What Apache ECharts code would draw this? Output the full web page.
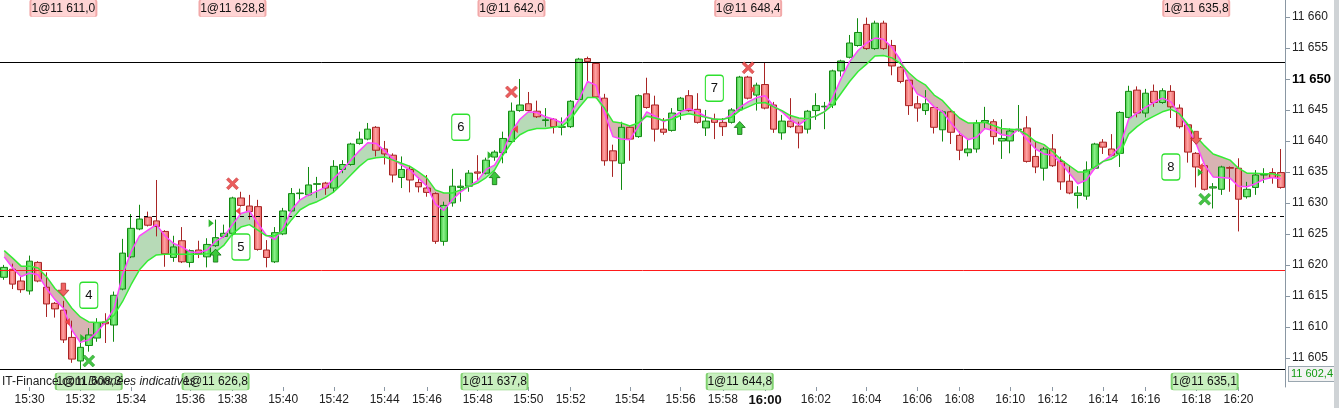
<!DOCTYPE html>
<html><head><meta charset="utf-8">
<script src="https://cdn.jsdelivr.net/npm/echarts@6/dist/echarts.min.js"></script>
<style>html,body{margin:0;padding:0;background:#fff}#c{width:1339px;height:408px}</style>
</head><body><div id="c"></div>
<script>
// ---- time axis ticks (candle index -> label)
const tickIndex = [3,9,15,22,27,33,39,45,50,56,62,67,74,80,85,90,96,102,108,113,119,124,130,135,141,146];
const tickLabels = ['15:30','15:32','15:34','15:36','15:38','15:40','15:42','15:44','15:46','15:48','15:50','15:52','15:54','15:56','15:58','16:00','16:02','16:04','16:06','16:08','16:10','16:12','16:14','16:16','16:18','16:20'];

// ---- candles
const opens = [11618.0,11619.3,11617.4,11615.8,11620.4,11616.4,11613.8,11612.7,11608.3,11604.5,11607.0,11608.2,11610.8,11610.3,11616.1,11621.3,11625.8,11627.7,11627.1,11625.4,
11621.2,11623.9,11620.4,11622.4,11621.3,11623.1,11624.6,11625.1,11630.8,11629.5,11629.4,11622.4,11620.5,11625.0,11628.7,11631.5,11631.3,11633.0,11633.2,11632.4,
11635.4,11636.2,11639.6,11640.3,11642.2,11638.7,11637.7,11634.1,11635.4,11633.3,11632.4,11631.5,11623.8,11630.0,11632.5,11632.7,11635.0,11634.8,11637.4,11638.1,
11639.9,11644.9,11646.0,11644.8,11643.3,11643.5,11642.2,11642.3,11646.7,11653.3,11652.5,11646.9,11638.4,11636.4,11642.2,11640.7,11647.6,11645.8,11641.9,11641.7,
11644.9,11647.3,11645.1,11642.1,11643.5,11643.0,11643.0,11645.0,11650.3,11647.4,11649.1,11645.8,11641.3,11643.2,11642.4,11641.9,11644.9,11645.5,11645.8,11651.3,
11653.5,11655.4,11658.8,11654.9,11659.0,11655.4,11651.9,11649.8,11646.0,11644.9,11645.4,11641.8,11644.7,11640.9,11638.1,11638.7,11643.0,11643.1,11640.0,11640.0,
11641.8,11642.1,11637.5,11635.6,11638.7,11636.7,11633.5,11631.2,11631.1,11635.6,11639.8,11638.7,11638.0,11643.8,11648.2,11644.5,11648.0,11646.2,11648.0,11645.3,
11642.6,11638.0,11636.0,11632.4,11632.2,11635.7,11635.6,11631.0,11632.5,11634.5,11634.9,11634.9];
const closes = [11619.6,11616.9,11616.0,11620.6,11617.4,11613.7,11612.9,11607.9,11604.8,11606.7,11608.7,11610.7,11610.5,11615.1,11621.9,11625.9,11627.4,11626.4,11626.2,11621.8,
11622.9,11620.5,11622.3,11621.8,11623.3,11624.4,11625.1,11630.8,11629.6,11628.6,11622.5,11621.2,11625.2,11628.7,11631.5,11631.6,11632.9,11633.1,11632.4,11635.9,
11636.2,11639.5,11640.3,11641.9,11638.5,11637.9,11634.5,11635.4,11633.7,11632.6,11631.7,11623.8,11629.6,11632.7,11632.7,11634.8,11634.8,11636.9,11638.2,11640.4,
11644.8,11645.8,11644.9,11643.9,11643.4,11642.3,11642.3,11646.4,11653.2,11652.8,11647.1,11636.8,11636.8,11642.2,11640.3,11647.3,11645.4,11641.9,11641.4,11644.5,
11646.9,11644.9,11643.0,11643.2,11643.0,11642.3,11645.0,11650.3,11646.9,11649.0,11645.3,11641.9,11643.2,11642.3,11641.3,11644.8,11645.7,11645.6,11651.3,11652.9,
11655.8,11657.5,11654.9,11659.0,11654.9,11652.1,11649.6,11645.7,11645.3,11646.0,11642.2,11644.7,11641.4,11638.5,11638.7,11642.9,11643.3,11640.7,11640.4,11641.6,
11641.9,11636.7,11635.8,11638.7,11636.0,11633.4,11631.6,11631.6,11635.3,11639.5,11639.0,11637.7,11644.6,11648.0,11644.5,11647.7,11646.2,11648.1,11645.5,11642.3,
11638.2,11635.8,11632.2,11632.6,11635.8,11635.6,11630.6,11632.2,11634.5,11634.6,11634.1,11632.5];
const lows = [11617.6,11616.1,11615.5,11615.2,11617.2,11611.6,11611.5,11607.4,11604.2,11603.2,11606.0,11607.6,11607.4,11607.6,11615.9,11621.1,11625.6,11626.2,11624.6,11619.7,
11620.5,11620.3,11619.6,11621.1,11619.6,11622.9,11624.4,11624.9,11629.4,11627.3,11622.3,11619.6,11620.3,11624.8,11628.5,11630.5,11631.1,11630.8,11631.3,11631.7,
11634.8,11636.0,11639.4,11640.1,11637.5,11636.2,11633.3,11632.4,11631.7,11631.7,11631.0,11623.4,11623.1,11629.4,11630.2,11631.8,11633.7,11634.6,11636.8,11636.4,
11639.7,11644.7,11644.7,11643.7,11642.3,11641.2,11640.9,11642.1,11646.5,11649.6,11646.9,11636.0,11634.2,11632.1,11636.8,11640.5,11645.2,11639.9,11641.0,11641.5,
11643.4,11644.7,11642.8,11640.8,11640.3,11640.8,11642.8,11644.8,11646.7,11644.9,11645.1,11641.3,11640.2,11642.1,11638.8,11641.2,11643.4,11641.9,11645.3,11650.4,
11653.3,11655.2,11654.7,11654.7,11654.7,11650.6,11649.3,11644.2,11643.1,11644.2,11641.2,11639.9,11639.5,11636.9,11637.5,11638.1,11642.0,11639.4,11637.1,11638.0,
11641.5,11636.5,11634.8,11633.6,11635.8,11632.1,11631.4,11629.1,11630.5,11635.4,11637.9,11637.5,11635.8,11643.6,11643.8,11643.8,11645.5,11646.0,11643.7,11642.0,
11636.5,11632.5,11632.0,11629.1,11631.3,11631.8,11625.4,11630.7,11631.3,11633.2,11633.1,11632.3];
const highs = [11620.0,11620.2,11618.1,11621.5,11620.6,11618.8,11614.0,11614.2,11611.0,11607.5,11609.8,11611.4,11612.2,11615.7,11624.2,11628.2,11629.7,11628.6,11633.7,11625.6,
11624.7,11626.1,11622.5,11623.9,11624.3,11627.3,11626.5,11631.0,11631.8,11631.3,11630.5,11624.0,11626.1,11629.2,11632.4,11632.3,11635.8,11634.2,11633.4,11636.9,
11636.9,11639.7,11641.5,11642.9,11642.4,11640.0,11638.0,11637.5,11636.0,11634.1,11634.5,11631.7,11630.2,11635.5,11633.8,11635.3,11637.7,11637.3,11638.5,11641.5,
11646.2,11650.0,11647.9,11646.5,11645.3,11643.7,11643.8,11646.6,11653.4,11653.6,11652.7,11647.6,11639.4,11643.1,11642.4,11647.5,11650.2,11647.3,11643.7,11645.3,
11647.1,11648.2,11647.7,11645.0,11644.4,11643.7,11645.3,11650.5,11650.5,11649.4,11652.6,11646.3,11644.2,11646.9,11643.1,11645.0,11647.7,11646.3,11651.5,11653.1,
11657.1,11659.8,11659.9,11659.4,11659.4,11656.3,11652.1,11650.0,11647.3,11648.2,11645.6,11644.9,11644.9,11641.5,11640.3,11643.4,11645.5,11643.5,11643.5,11642.0,
11645.8,11644.0,11640.0,11639.0,11641.1,11637.5,11636.1,11632.7,11636.7,11639.7,11640.3,11641.1,11644.8,11648.9,11648.8,11648.4,11649.1,11648.5,11649.0,11645.9,
11642.8,11638.2,11636.2,11633.2,11636.0,11635.9,11637.2,11633.4,11635.3,11635.6,11635.6,11638.7];

// ---- moving averages
const fastMA = [11621.3,11619.5,11618.1,11618.7,11618.4,11616.2,11614.4,11613.0,11609.5,11607.5,11607.9,11609.2,11610.8,11613.0,11618.4,11622.1,11624.7,11625.6,11626.5,11624.7,
11623.5,11622.9,11622.1,11622.0,11622.4,11623.8,11624.6,11626.5,11628.3,11628.7,11626.7,11624.8,11624.1,11625.9,11628.9,11630.5,11631.3,11631.9,11632.5,11634.0,
11635.3,11636.9,11638.4,11639.7,11639.6,11638.4,11637.1,11636.1,11635.3,11634.0,11632.7,11629.8,11628.8,11630.5,11631.8,11632.7,11633.6,11635.4,11636.1,11638.3,
11641.5,11643.5,11644.7,11644.6,11643.9,11643.5,11642.9,11644.4,11646.7,11649.6,11649.0,11644.5,11640.7,11640.3,11640.2,11642.3,11644.7,11644.0,11643.1,11643.8,
11644.7,11645.2,11644.7,11643.9,11643.5,11643.4,11644.2,11645.4,11646.3,11647.0,11647.3,11645.7,11644.7,11643.4,11642.6,11643.6,11644.0,11644.7,11647.0,11650.1,
11652.8,11654.6,11655.8,11656.6,11656.4,11655.1,11653.1,11649.8,11647.6,11646.9,11645.5,11644.7,11642.9,11641.3,11640.2,11640.6,11642.0,11641.7,11641.0,11640.8,
11641.9,11640.2,11638.7,11637.9,11637.7,11636.4,11634.8,11633.1,11633.7,11635.6,11636.7,11637.7,11639.2,11643.5,11644.5,11645.4,11646.2,11646.9,11646.3,11644.4,
11642.0,11639.5,11636.1,11634.2,11634.1,11634.0,11632.7,11632.6,11633.1,11633.8,11634.1,11633.9];
const slowMA = [11622.3,11621.1,11619.8,11619.8,11619.5,11618.1,11616.2,11614.9,11613.0,11611.6,11610.8,11610.7,11610.8,11611.9,11614.1,11616.8,11619.2,11620.7,11621.6,11621.7,
11621.7,11621.7,11621.7,11621.7,11621.8,11622.1,11623.2,11625.0,11626.1,11626.5,11625.6,11624.7,11624.7,11625.5,11627.3,11628.9,11629.7,11630.2,11630.9,11631.8,
11633.1,11634.5,11635.9,11637.0,11637.3,11637.4,11636.9,11636.4,11635.9,11635.0,11634.0,11632.1,11631.6,11631.6,11632.1,11632.7,11633.2,11634.1,11635.3,11637.7,
11639.7,11641.0,11641.7,11642.0,11642.0,11642.2,11642.4,11643.5,11645.4,11647.0,11647.0,11645.3,11643.1,11642.9,11642.4,11642.9,11644.0,11643.7,11643.3,11643.5,
11644.1,11644.4,11644.1,11643.8,11643.5,11643.5,11643.8,11644.9,11645.5,11646.1,11646.2,11645.5,11644.9,11644.1,11643.7,11643.6,11644.0,11644.7,11645.8,11647.7,
11649.6,11651.2,11652.4,11653.7,11653.8,11653.4,11652.5,11651.0,11649.8,11649.0,11647.4,11646.5,11645.0,11643.7,11642.9,11642.9,11643.0,11642.5,11642.0,11641.9,
11641.8,11641.0,11639.9,11639.4,11638.3,11637.0,11636.0,11635.0,11635.0,11635.8,11636.7,11637.1,11638.0,11641.1,11642.3,11643.3,11644.0,11644.7,11645.1,11644.4,
11642.7,11640.7,11639.2,11637.9,11637.4,11636.9,11635.6,11634.8,11634.8,11634.7,11634.7,11634.4];

// ---- horizontal levels
const levelSolid = [11652.7, 11603.1];
const levelDashed = [11627.9];
const levelRed = [11619.2];
const lastPrice = 11602.4;

// ---- annotations
const boxLabels = ['4','5','6','7','8'];
const boxIdx = [10,28,54,84,138];
const boxPrice = [11615.1,11622.9,11642.2,11648.5,11635.8];
const sellIdx = [7,27,60,88,141];
const sellLabels = ['1@11 611,0','1@11 628,8','1@11 642,0','1@11 648,4','1@11 635,8'];
const buyIdx = [10,25,58,87,142];
const buyLabels = ['1@11 608,3','1@11 626,8','1@11 637,8','1@11 644,8','1@11 635,1'];
const topTagPrice = 11661.4, bottomTagPrice = 11601.2;
const redCrossIdx = [27,60,88], redCrossPrice = [11633.1,11647.9,11651.8];
const greenCrossIdx = [10,142], greenCrossPrice = [11604.5,11630.6];
const upArrowIdx = [25,58,87], upArrowPrice = [11621.5,11634.0,11642.1];
const downArrowIdx = [7,141], downArrowPrice = [11616.0,11640.5];
const redTriIdx = [7,28,60,88,141], redTriPrice = [11610.8,11628.7,11641.9,11648.3,11635.8];
const greenTriIdx = [10,24,57,141], greenTriPrice = [11608.2,11626.7,11637.7,11634.9];

// ---------------------------------------------------------------
const N = opens.length;
const categories = Array.from({length: N}, (_, i) => String(i));
const tickMap = {}; tickIndex.forEach((t, k) => tickMap[t] = tickLabels[k]);
const showTick = (i) => tickMap[i] !== undefined;
const fmtPrice = v => { const s = String(v); return s.slice(0, 2) + ' ' + s.slice(2); };

const candleData = opens.map((o, i) => [o, closes[i], lows[i], highs[i]]);
const bandBase = fastMA.map((m, i) => Math.min(m, slowMA[i]));
const bandUp = fastMA.map((m, i) => m > slowMA[i] ? +(m - slowMA[i]).toFixed(2) : 0);
const bandDn = fastMA.map((m, i) => m < slowMA[i] ? +(slowMA[i] - m).toFixed(2) : 0);

const FONT = 'Liberation Sans, Arial, sans-serif';
const G = echarts.graphic;
const upFill = new G.LinearGradient(0, 0, 1, 0, [{offset: 0, color: '#2fbf2f'}, {offset: 0.45, color: '#8cf08c'}, {offset: 1, color: '#34c434'}]);
const dnFill = new G.LinearGradient(0, 0, 1, 0, [{offset: 0, color: '#e25555'}, {offset: 0.45, color: '#ffa3a3'}, {offset: 1, color: '#e45a5a'}]);

const P_X = 'path://M2,0 L6,4 L10,0 L12,2 L8,6 L12,10 L10,12 L6,8 L2,12 L0,10 L4,6 L0,2 Z';
const P_UP = 'path://M5,0 L10,6 L7,6 L7,13 L3,13 L3,6 L0,6 Z';
const P_DN = 'path://M3,0 L7,0 L7,7 L10,7 L5,13 L0,7 L3,7 Z';
const P_R = 'path://M0,0 L6,4 L0,8 Z';
const P_L = 'path://M6,0 L0,4 L6,8 Z';
const P_TAG = 'path://M2,0 L64,0 Q66,0 66,2 L66,15 Q66,17 64,17 L2,17 Q0,17 0,15 L0,2 Q0,0 2,0 Z';
const P_BOX = 'path://M3,0 L15,0 Q18,0 18,3 L18,23 Q18,26 15,26 L3,26 Q0,26 0,23 L0,3 Q0,0 3,0 Z';

const marks = [];
boxLabels.forEach((t, k) => marks.push({coord: [boxIdx[k], boxPrice[k]], symbol: P_BOX, symbolSize: [18, 26],
  itemStyle: {color: '#fff', borderColor: '#2ee02e', borderWidth: 1.3},
  label: {show: true, formatter: t, color: '#111', fontSize: 13, fontFamily: FONT}}));
sellLabels.forEach((t, k) => marks.push({coord: [sellIdx[k], topTagPrice], symbol: P_TAG, symbolSize: [66, 17],
  itemStyle: {color: '#ffd4d4', borderColor: '#f2a9a9', borderWidth: 1},
  label: {show: true, formatter: t, color: '#111', fontSize: 12, fontFamily: FONT}}));
buyLabels.forEach((t, k) => marks.push({coord: [buyIdx[k], bottomTagPrice], symbol: P_TAG, symbolSize: [66, 17],
  itemStyle: {color: '#c8efbf', borderColor: '#7fd06f', borderWidth: 1},
  label: {show: true, formatter: t, color: '#111', fontSize: 12, fontFamily: FONT}}));
redCrossIdx.forEach((x, k) => marks.push({coord: [x, redCrossPrice[k]], symbol: P_X, symbolSize: 12,
  itemStyle: {color: '#ea5c5c', borderColor: '#c83a3a', borderWidth: 0.6}}));
greenCrossIdx.forEach((x, k) => marks.push({coord: [x, greenCrossPrice[k]], symbol: P_X, symbolSize: 12,
  itemStyle: {color: '#45c445', borderColor: '#2a9a2a', borderWidth: 0.6}}));
upArrowIdx.forEach((x, k) => marks.push({coord: [x, upArrowPrice[k]], symbol: P_UP, symbolSize: [11, 13],
  itemStyle: {color: '#3cc83c', borderColor: '#0f6f0f', borderWidth: 0.8}}));
downArrowIdx.forEach((x, k) => marks.push({coord: [x, downArrowPrice[k]], symbol: P_DN, symbolSize: [11, 13],
  itemStyle: {color: '#f06262', borderColor: '#b02a2a', borderWidth: 0.8}}));
const redTriOff = [4, -3, 4, 4, 4];
redTriIdx.forEach((x, k) => marks.push({coord: [x, redTriPrice[k]], symbol: P_L, symbolSize: [5, 8], symbolOffset: [redTriOff[k], 0],
  itemStyle: {color: '#ee4444'}}));
const greenTriOff = [-6, 4, 4, 4];
greenTriIdx.forEach((x, k) => marks.push({coord: [x, greenTriPrice[k]], symbol: P_R, symbolSize: [5, 8], symbolOffset: [greenTriOff[k], 0],
  itemStyle: {color: '#2eb82e'}}));

const lineMarks = [];
levelSolid.forEach(v => lineMarks.push({yAxis: v, lineStyle: {color: '#000', width: 1, type: 'solid'}}));
levelDashed.forEach(v => lineMarks.push({yAxis: v, lineStyle: {color: '#000', width: 1, type: [4, 4]}}));
levelRed.forEach(v => lineMarks.push({yAxis: v, lineStyle: {color: '#ff1a1a', width: 1, type: 'solid'}}));
lineMarks.push({yAxis: lastPrice, lineStyle: {color: 'rgba(0,0,0,0)', width: 0},
  label: {show: true, position: 'end', distance: 4, formatter: '11 602,4', color: '#129a12', fontSize: 11, fontFamily: FONT,
    backgroundColor: '#f3f3f3', borderColor: '#9aa7b0', borderWidth: 1, padding: [2, 2, 1, 2]}});

const chart = echarts.init(document.getElementById('c'), null, {renderer: 'canvas'});
chart.setOption({
  animation: false,
  backgroundColor: '#fff',
  grid: {left: -1, right: 54, top: 0, bottom: 21},
  xAxis: {
    type: 'category', data: categories, boundaryGap: true,
    axisLine: {show: false},
    axisTick: {show: true, alignWithLabel: true, interval: showTick, length: 4, lineStyle: {color: '#8a97a3'}},
    axisLabel: {interval: showTick, margin: 7, fontSize: 12, fontFamily: FONT, color: '#222',
      formatter: (v) => { const t = tickMap[+v] || ''; return t === '16:00' ? '{b|16:00}' : t; },
      rich: {b: {fontWeight: 'bold', fontSize: 13, fontFamily: FONT, color: '#111'}}},
    splitLine: {show: false}
  },
  yAxis: {
    type: 'value', position: 'right', scale: true,
    min: 11600.3, max: 11662.74, splitNumber: 12, minInterval: 5, maxInterval: 5,
    axisLine: {show: true, lineStyle: {color: '#8a97a3'}},
    axisTick: {show: true, length: 5, lineStyle: {color: '#8a97a3'}},
    splitLine: {show: false},
    axisLabel: {showMinLabel: false, showMaxLabel: false, margin: 7, fontSize: 12, fontFamily: FONT, color: '#222',
      formatter: (v) => {
        if (Math.abs(v / 5 - Math.round(v / 5)) > 0.001 || v < 11604 || v > 11661) return '';
        const s = fmtPrice(Math.round(v));
        return Math.round(v) === 11650 ? '{b|' + s + '}' : s;
      },
      rich: {b: {fontWeight: 'bold', fontSize: 13, fontFamily: FONT, color: '#000'}}}
  },
  series: [
    {type: 'line', data: bandBase, stack: 'band', symbol: 'none', silent: true, lineStyle: {width: 0, opacity: 0}, z: 1},
    {type: 'line', data: bandUp, stack: 'band', symbol: 'none', silent: true, lineStyle: {width: 0, opacity: 0},
      areaStyle: {color: '#b7dab7', opacity: 1}, z: 1},
    {type: 'line', data: bandDn, stack: 'band', symbol: 'none', silent: true, lineStyle: {width: 0, opacity: 0},
      areaStyle: {color: '#d8b3b3', opacity: 1}, z: 1},
    {type: 'candlestick', data: candleData, barWidth: 7, z: 2,
      itemStyle: {color: upFill, color0: dnFill, borderColor: '#128a12', borderColor0: '#a82424', borderWidth: 1},
      markLine: {silent: true, symbol: 'none', animation: false, label: {show: false}, data: lineMarks, z: 3},
      markPoint: {silent: true, animation: false, data: marks, z: 6}},
    {type: 'line', data: fastMA, symbol: 'none', silent: true, lineStyle: {color: '#ff45ff', width: 1.5}, z: 4},
    {type: 'line', data: slowMA, symbol: 'none', silent: true, lineStyle: {color: '#35ec35', width: 1.5}, z: 4}
  ],
  graphic: [
    {type: 'rect', right: 0, top: 0, shape: {width: 5, height: 408}, style: {fill: '#cfd3d6'}, z: 10},
    {type: 'text', left: 2, top: 376, z: 20, style: {
      text: '{a|IT-Finance.com }{b|Données indicatives}', fill: '#222',
      rich: {a: {fontSize: 12, fontFamily: FONT, fill: '#222'}, b: {fontSize: 12, fontFamily: FONT, fontStyle: 'italic', fill: '#222'}}}}
  ]
});
</script></body></html>
